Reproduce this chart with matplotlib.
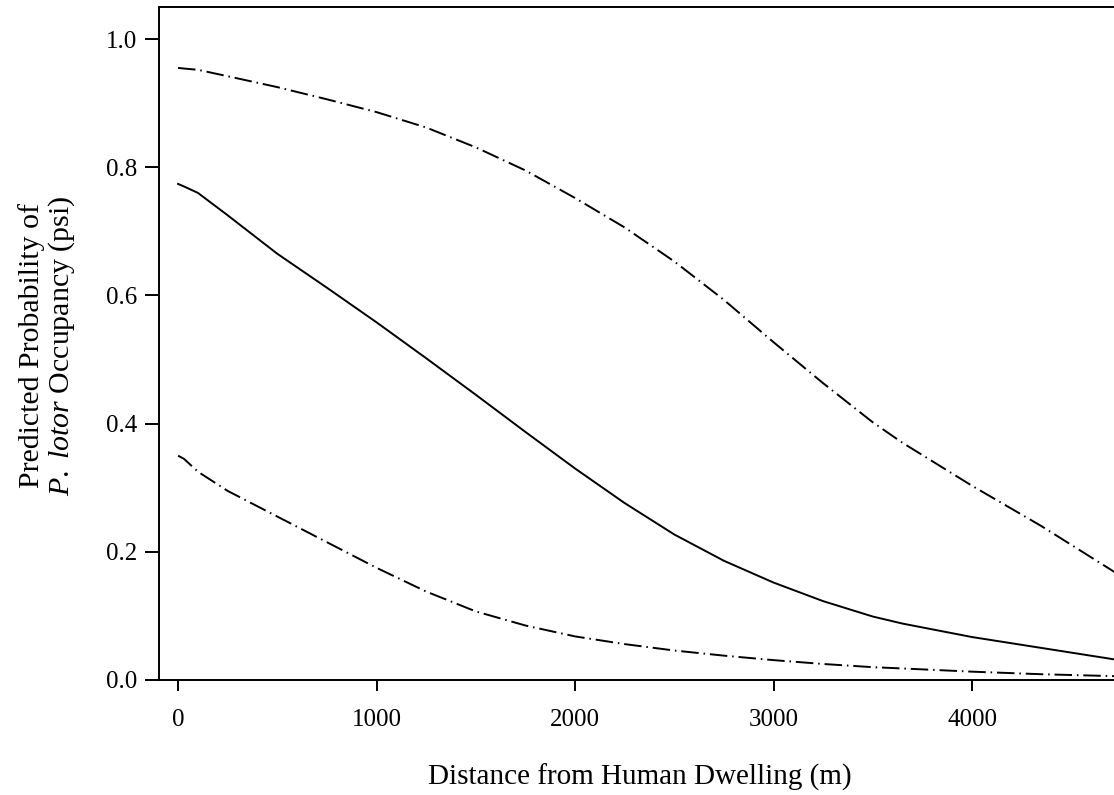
import numpy as np
import matplotlib
matplotlib.use("Agg")
import matplotlib.pyplot as plt

plt.rcParams['font.family'] = ['Liberation Serif', 'DejaVu Serif']
plt.rcParams['mathtext.fontset'] = 'custom'
plt.rcParams['mathtext.rm'] = 'Liberation Serif'
plt.rcParams['mathtext.it'] = 'Liberation Serif:italic'

# distance (m) and predicted psi with lower / upper bounds
distance = [0, 30, 100, 250, 500, 750, 1000, 1250, 1500, 1750, 2000, 2250, 2500,
            2750, 3000, 3250, 3500, 3650, 4000, 4350, 4720]
psi = [0.774, 0.770, 0.760, 0.725, 0.665, 0.612, 0.558, 0.502, 0.445, 0.387, 0.330,
       0.276, 0.227, 0.186, 0.152, 0.123, 0.099, 0.088, 0.067, 0.050, 0.032]
psi_low = [0.350, 0.345, 0.325, 0.295, 0.255, 0.215, 0.175, 0.138, 0.107, 0.085,
           0.068, 0.056, 0.046, 0.038, 0.031, 0.025, 0.020, 0.018, 0.013, 0.009, 0.006]
psi_high = [0.955, 0.954, 0.952, 0.942, 0.925, 0.906, 0.886, 0.862, 0.831, 0.795,
            0.752, 0.706, 0.653, 0.593, 0.527, 0.463, 0.402, 0.370, 0.303, 0.240, 0.168]

x_ticks = [0, 1000, 2000, 3000, 4000]
y_ticks = [0.0, 0.2, 0.4, 0.6, 0.8, 1.0]

fig = plt.figure(figsize=(11.14, 7.95), dpi=100)
ax = fig.add_axes([159 / 1114, 1 - 680 / 795, 1 - 159 / 1114, (680 - 7) / 795])

lw = 1.4
dashdot = (0, (9, 2.5, 0.8, 2.5))
ax.plot(distance, psi, color='black', lw=lw, ls='-')
ax.plot(distance, psi_low, color='black', lw=lw, ls=dashdot)
ax.plot(distance, psi_high, color='black', lw=lw, ls=dashdot)

ax.set_xlim(-96, 4715)
ax.set_ylim(0, 1.05)
ax.set_xticks(x_ticks)
ax.set_yticks(y_ticks)
ax.set_yticklabels([f"{v:.1f}" for v in y_ticks])
ax.spines['right'].set_visible(False)
for s in ax.spines.values():
    s.set_linewidth(lw)
ax.tick_params(axis='x', direction='out', length=8, width=lw, pad=13, labelsize=18)
ax.tick_params(axis='y', direction='out', length=10, width=lw, pad=6, labelsize=18)

fig.text(640 / 1114, 1 - 777 / 795, "Distance from Human Dwelling (m)",
         ha='center', va='center', fontsize=21)
fig.text(32 / 1114, 1 - 346 / 795, "Predicted Probability of",
         ha='center', va='center', rotation=90, fontsize=21.5)
fig.text(62 / 1114, 1 - 346 / 795, r"$\mathit{P.\ lotor}$ Occupancy (psi)",
         ha='center', va='center', rotation=90, fontsize=21.5)

fig.savefig("out.png", dpi=100)
